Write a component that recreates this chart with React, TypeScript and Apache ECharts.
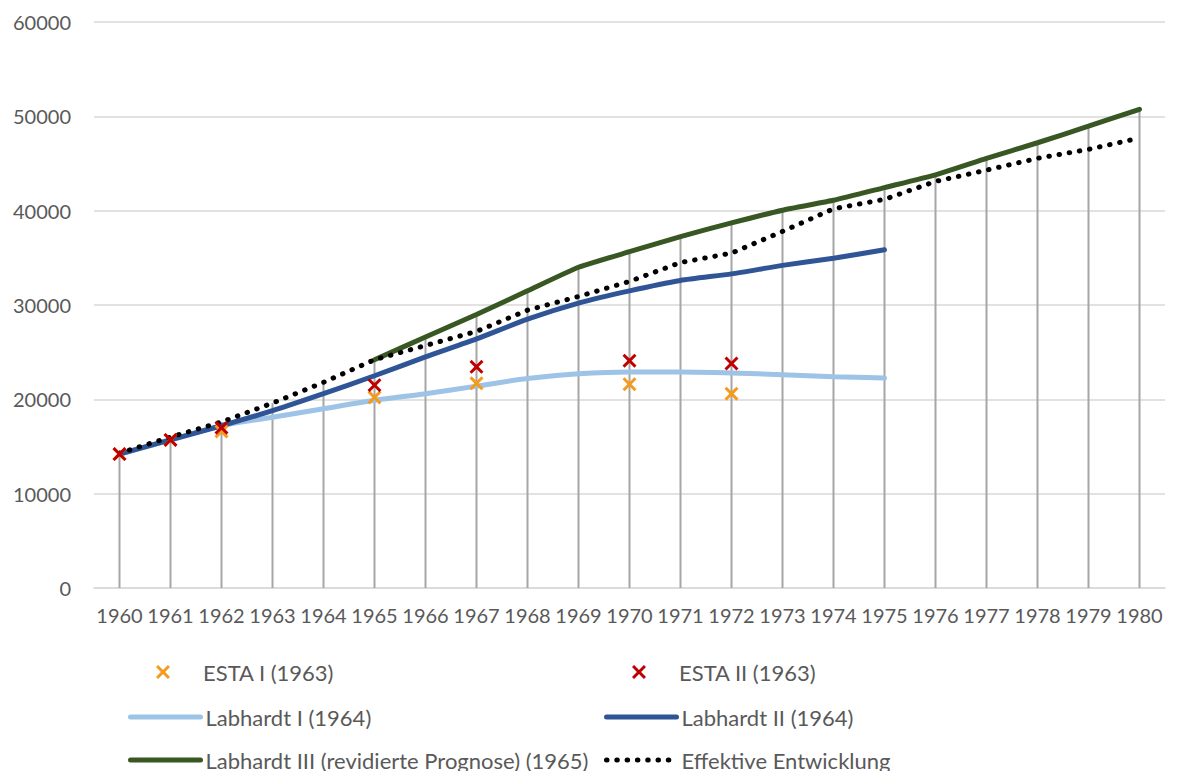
import React, { useEffect, useRef } from 'react';
import * as echarts from 'echarts';

const years = ['1960','1961','1962','1963','1964','1965','1966','1967','1968','1969','1970','1971','1972','1973','1974','1975','1976','1977','1978','1979','1980'];

const estaI = [14200, 15700, 16600, null, null, 20200, null, 21700, null, null, 21600, null, 20600, null, null, null, null, null, null, null, null];
const estaII = [14200, 15700, 17000, null, null, 21500, null, 23450, null, null, 24100, null, 23800, null, null, null, null, null, null, null, null];
const labhardtI = [14200, 15700, 17200, 18100, 19000, 19900, 20600, 21400, 22200, 22700, 22900, 22900, 22800, 22600, 22400, 22250, null, null, null, null, null];
const labhardtII = [14200, 15700, 17200, 18800, 20600, 22500, 24500, 26400, 28500, 30200, 31500, 32600, 33300, 34200, 34950, 35850, null, null, null, null, null];
const labhardtIII = [null, null, null, null, null, 24200, 26600, 29000, 31500, 34000, 35650, 37250, 38700, 40050, 41100, 42450, 43800, 45550, 47200, 48950, 50750];
const effektiv = [14300, 16000, 17600, 19600, 21800, 24200, 25700, 27200, 29450, 30900, 32500, 34500, 35500, 37800, 40200, 41200, 43100, 44300, 45550, 46500, 47700];

const yTicks = { min: 0, max: 60000, interval: 10000 };

const names = {
  estaI: 'ESTA I (1963)',
  estaII: 'ESTA II (1963)',
  labI: 'Labhardt I (1964)',
  labII: 'Labhardt II (1964)',
  labIII: 'Labhardt III (revidierte Prognose) (1965)',
  eff: 'Effektive Entwicklung',
};

const crossPath = 'path://M0,1.5L1.5,0L5,3.5L8.5,0L10,1.5L6.5,5L10,8.5L8.5,10L5,6.5L1.5,10L0,8.5L3.5,5Z';

const FONT = 'Lato';

export default function App() {
  const ref = useRef<HTMLDivElement>(null);
  useEffect(() => {
    const chart = echarts.init(ref.current!, null, { renderer: 'svg' });
    const all = [estaI, estaII, labhardtI, labhardtII, labhardtIII, effektiv];
    const dropTops = years.map((_, i) => {
      const vals = all.map((a) => a[i]).filter((v) => v != null) as number[];
      return vals.length ? Math.max(...vals) : null;
    });
    const LH = 22;
    const textBase = { fontFamily: FONT, fontSize: 22, color: '#595959', lineHeight: LH };
    const mkLineLegend = (name: string, left: number, centerY: number) => ({
      orient: 'horizontal',
      left,
      top: centerY - LH / 2,
      itemWidth: 70,
      itemHeight: 14,
      padding: 0,
      selectedMode: false,
      data: [name],
      textStyle: textBase,
      itemStyle: { color: 'rgba(0,0,0,0)', borderWidth: 0, opacity: 0 },
      lineStyle: { width: 5 },
    });
    const mkMarkLegend = (name: string, left: number, centerY: number) => ({
      orient: 'horizontal',
      left: left + 28,
      top: centerY - LH / 2,
      itemWidth: 14,
      itemHeight: 14,
      padding: 0,
      selectedMode: false,
      data: [{ name, icon: crossPath }],
      textStyle: { ...textBase, padding: [0, 0, 0, 28] },
    });
    chart.setOption({
      animation: false,
      backgroundColor: '#ffffff',
      textStyle: { fontFamily: FONT },
      grid: { left: 94, right: 12, top: 22, bottom: 183, containLabel: false },
      legend: [
        mkMarkLegend(names.estaI, 128, 672),
        mkMarkLegend(names.estaII, 604, 672),
        mkLineLegend(names.labI, 128, 717),
        mkLineLegend(names.labII, 604, 717),
        mkLineLegend(names.labIII, 128, 760),
        mkLineLegend(names.eff, 604, 760),
      ],
      xAxis: {
        type: 'category',
        data: years,
        boundaryGap: true,
        axisLine: { show: true, lineStyle: { color: '#d9d9d9', width: 1.5 } },
        axisTick: { show: false },
        axisLabel: { interval: 0, margin: 17, fontFamily: FONT, fontSize: 20, color: '#595959' },
        splitLine: { show: false },
      },
      yAxis: {
        type: 'value',
        min: yTicks.min,
        max: yTicks.max,
        interval: yTicks.interval,
        axisLine: { show: false },
        axisTick: { show: false },
        axisLabel: {
          margin: 23,
          fontFamily: FONT,
          fontSize: 20,
          color: '#595959',
          formatter: (v: number) => String(v),
        },
        splitLine: { lineStyle: { color: '#d9d9d9', width: 1.5 } },
      },
      series: [
        {
          name: 'drop',
          type: 'bar',
          data: dropTops,
          barWidth: 2,
          itemStyle: { color: '#a6a6a6' },
          silent: true,
          z: 1,
        },
        {
          name: names.labI,
          type: 'line',
          data: labhardtI,
          symbol: 'none',
          smooth: 0.3,
          lineStyle: { color: '#9dc3e6', width: 5, cap: 'round' },
          itemStyle: { color: '#9dc3e6' },
          z: 3,
        },
        {
          name: names.labII,
          type: 'line',
          data: labhardtII,
          symbol: 'none',
          smooth: 0.2,
          lineStyle: { color: '#2f5597', width: 5, cap: 'round' },
          itemStyle: { color: '#2f5597' },
          z: 3,
        },
        {
          name: names.labIII,
          type: 'line',
          data: labhardtIII,
          symbol: 'none',
          smooth: 0.15,
          lineStyle: { color: '#385723', width: 5, cap: 'round' },
          itemStyle: { color: '#385723' },
          z: 3,
        },
        {
          name: names.eff,
          type: 'line',
          data: effektiv,
          symbol: 'none',
          lineStyle: { color: '#000000', width: 5, type: [0.5, 9.8], cap: 'round' },
          itemStyle: { color: '#000000' },
          z: 4,
        },
        {
          name: names.estaI,
          type: 'scatter',
          data: estaI,
          symbol: crossPath,
          symbolSize: 14,
          itemStyle: { color: '#f59b1c', opacity: 1 },
          z: 5,
        },
        {
          name: names.estaII,
          type: 'scatter',
          data: estaII,
          symbol: crossPath,
          symbolSize: 14,
          itemStyle: { color: '#c00000', opacity: 1 },
          z: 6,
        },
      ],
    });
    return () => chart.dispose();
  }, []);
  return (
    <div
      ref={ref}
      style={{ position: 'fixed', left: 0, top: 0, width: 1177, height: 771, background: '#ffffff' }}
    />
  );
}
